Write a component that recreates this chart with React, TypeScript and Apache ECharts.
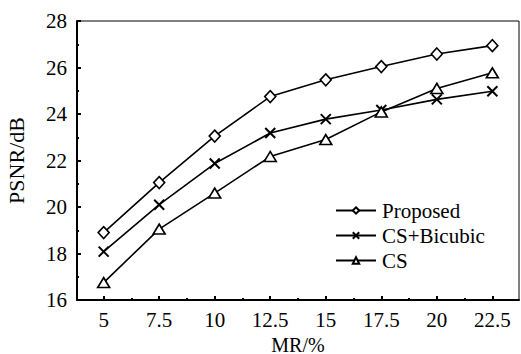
import React, { useEffect, useRef } from "react";
import * as echarts from "echarts";

const mrValues = [5, 7.5, 10, 12.5, 15, 17.5, 20, 22.5];
const proposed = [18.9, 21.05, 23.05, 24.75, 25.47, 26.04, 26.58, 26.94];
const csBicubic = [18.08, 20.1, 21.87, 23.18, 23.78, 24.17, 24.63, 24.98];
const csOnly = [16.75, 19.05, 20.6, 22.17, 22.9, 24.09, 25.1, 25.77];
const xMajorTicks = [5, 7.5, 10, 12.5, 15, 17.5, 20, 22.5];
const xMinorTicks = [6.25, 8.75, 11.25, 13.75, 16.25, 18.75, 21.25];

const FONT = "Liberation Serif";

export default function App() {
  const ref = useRef<HTMLDivElement>(null);
  useEffect(() => {
    document.body.style.margin = "0";
    const chart = echarts.init(ref.current!, null, { renderer: "svg" });
    const pair = (vals: number[]) => mrValues.map((x, i) => [x, vals[i]]);
    const lineCommon = {
      type: "line",
      lineStyle: { color: "#000", width: 1.6 },
      itemStyle: { color: "#fff", borderColor: "#000", borderWidth: 1.6 },
      showAllSymbol: true,
      z: 5,
    };
    chart.setOption({
      animation: false,
      backgroundColor: "#fff",
      textStyle: { fontFamily: FONT, color: "#000" },
      grid: {
        left: 77,
        top: 21,
        right: 2,
        bottom: 54,
        show: true,
        borderColor: "#000",
        borderWidth: 1,
        backgroundColor: "transparent",
        outerBoundsMode: "none",
        containLabel: false,
      },
      legend: {
        orient: "vertical",
        left: 335,
        top: 200,
        padding: 0,
        itemWidth: 40,
        itemHeight: 8,
        itemGap: 4,
        textStyle: { fontFamily: FONT, fontSize: 21, color: "#000", padding: [0, 0, 0, 1] },
        data: ["Proposed", "CS+Bicubic", "CS"],
      },
      xAxis: [
        {
          type: "value",
          min: 3.8,
          max: 23.7,
          name: "MR/%",
          nameLocation: "middle",
          nameGap: 28,
          nameTextStyle: { fontFamily: FONT, fontSize: 20, color: "#000" },
          axisLine: { show: true, lineStyle: { color: "#000", width: 2 } },
          axisTick: {
            show: true,
            inside: true,
            length: 4,
            customValues: xMajorTicks,
            lineStyle: { color: "#000", width: 2 },
          },
          axisLabel: {
            customValues: xMajorTicks,
            margin: 9,
            fontFamily: FONT,
            fontSize: 21,
            color: "#000",
            showMinLabel: true,
            showMaxLabel: true,
          },
          splitLine: { show: false },
        },
        {
          type: "value",
          min: 3.8,
          max: 23.7,
          position: "bottom",
          axisLine: { show: false },
          axisTick: {
            show: true,
            inside: true,
            length: 2,
            customValues: xMinorTicks,
            lineStyle: { color: "#000", width: 2 },
          },
          axisLabel: { show: false },
          splitLine: { show: false },
        },
      ],
      yAxis: {
        type: "value",
        min: 16,
        max: 28,
        interval: 2,
        name: "PSNR/dB",
        nameLocation: "middle",
        nameGap: 50,
        nameRotate: 90,
        nameTextStyle: { fontFamily: FONT, fontSize: 22, color: "#000" },
        axisLine: { show: true, lineStyle: { color: "#000", width: 2 } },
        axisTick: { show: true, inside: true, length: 4, lineStyle: { color: "#000", width: 2 } },
        minorTick: { show: true, splitNumber: 2, length: 2, lineStyle: { color: "#000", width: 2 } },
        axisLabel: { margin: 10, fontFamily: FONT, fontSize: 21, color: "#000" },
        splitLine: { show: false },
      },
      series: [
        { ...lineCommon, name: "Proposed", symbol: "diamond", symbolSize: [11, 12], data: pair(proposed) },
        {
          ...lineCommon,
          name: "CS+Bicubic",
          symbol: "path://M0,0L10,10M10,0L0,10",
          symbolSize: 10,
          itemStyle: { color: "none", borderColor: "#000", borderWidth: 2 },
          data: pair(csBicubic),
        },
        { ...lineCommon, name: "CS", symbol: "triangle", symbolSize: [12, 10], data: pair(csOnly) },
      ],
    });
    return () => chart.dispose();
  }, []);
  return <div ref={ref} style={{ width: 521, height: 354 }} />;
}
